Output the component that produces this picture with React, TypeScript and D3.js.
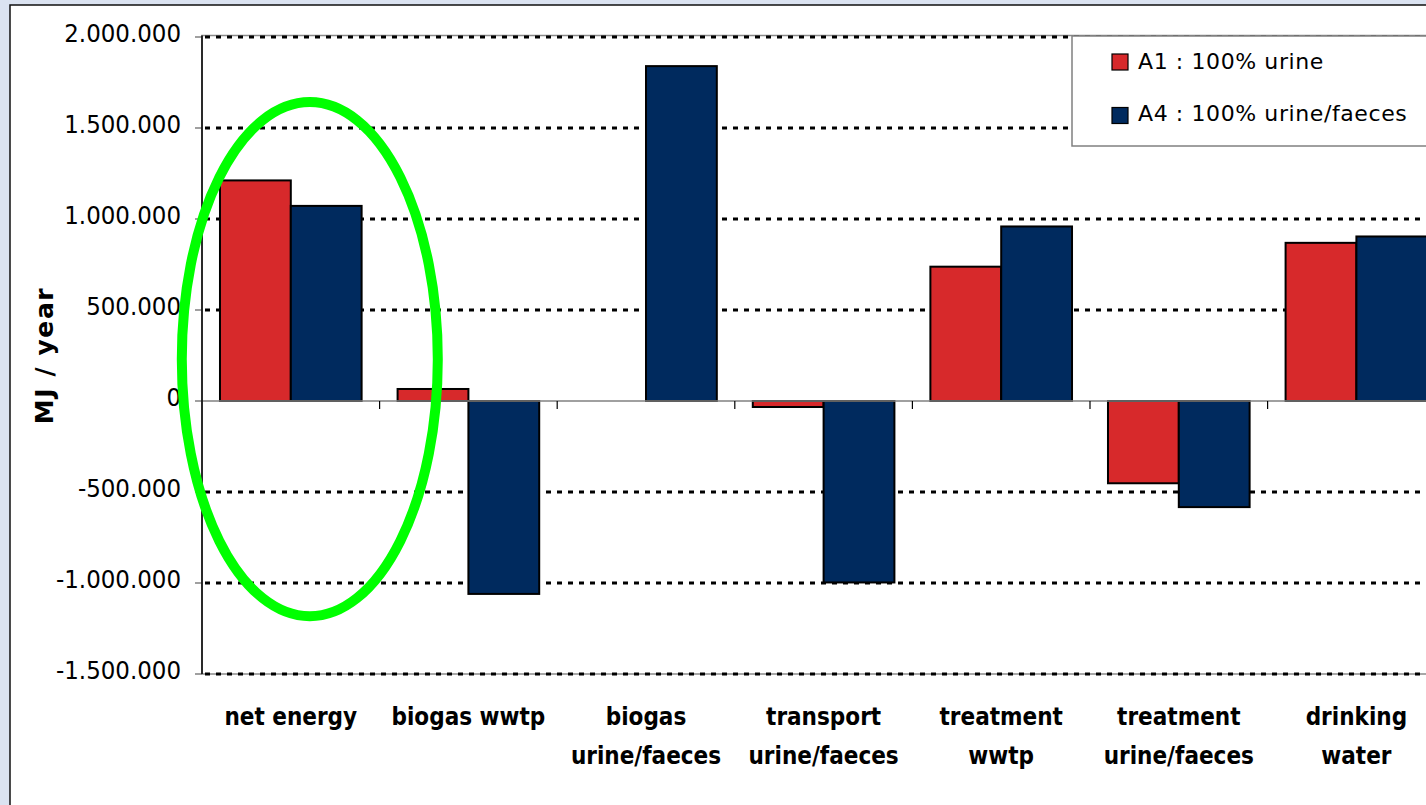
import React from "react";
import * as d3 from "d3";

const categories = [
  "net energy",
  "biogas wwtp",
  "biogas\nurine/faeces",
  "transport\nurine/faeces",
  "treatment\nwwtp",
  "treatment\nurine/faeces",
  "drinking\nwater",
];
const seriesNames = ["A1 : 100% urine", "A4 : 100% urine/faeces"];
const seriesA1 = [1212000, 66000, 0, -33000, 738000, -452000, 869000];
const seriesA4 = [1072000, -1060000, 1840000, -997000, 959000, -583000, 904000];
const yTicks = [2000000, 1500000, 1000000, 500000, 0, -500000, -1000000, -1500000];
const yTitle = "MJ / year";

const W = 1426;
const H = 805;
const COLORS = ["#d7292b", "#002a5e"];

function fmt(v: number): string {
  if (v === 0) return "0";
  const s = Math.abs(v).toString().replace(/\B(?=(\d{3})+(?!\d))/g, ".");
  return (v < 0 ? "-" : "") + s;
}

export default function App() {
  const left = 202;
  const top = 37;
  const bottom = 674;
  const step = 177.6;
  const x = d3
    .scaleBand<string>()
    .domain(categories)
    .range([left, left + step * categories.length])
    .padding(0);
  const xs = d3
    .scaleBand<string>()
    .domain(["A1", "A4"])
    .range([0, x.bandwidth()])
    .paddingInner(0)
    .paddingOuter(0.254);
  const y = d3.scaleLinear().domain([-1500000, 2000000]).range([bottom, top]);
  const y0 = y(0);
  const series = [seriesA1, seriesA4];
  const keys = ["A1", "A4"];
  const plotRight = W + 40;

  // annotation ellipse around "net energy"
  const ecx = (x("net energy") as number) + x.bandwidth() / 2 + 19;
  const ecy = y(230000);
  const ery = (y(-1185000) - y(1640000)) / 2;
  const erx = 128;

  return (
    <svg
      width={W}
      height={H}
      style={{ position: "absolute", left: 0, top: 0, display: "block" }}
    >
      <rect x={0} y={0} width={W} height={H} fill="#dbe3f1" />
      <rect x={10} y={5} width={W + 20} height={H + 20} fill="#ffffff" stroke="#111" strokeWidth={1.5} />

      {/* plot area border */}
      <rect x={left} y={top - 1.5} width={plotRight - left} height={bottom - top + 1.5} fill="none" stroke="#8a8a8a" strokeWidth={1.5} />

      {/* gridlines */}
      {yTicks.map((t) =>
        t === 0 ? null : (
          <line
            key={"g" + t}
            x1={left + 3}
            x2={plotRight}
            y1={y(t)}
            y2={y(t)}
            stroke="#000"
            strokeWidth={3}
            strokeDasharray="5 6"
          />
        )
      )}

      {/* y ticks and labels */}
      {yTicks.map((t) => (
        <g key={"t" + t}>
          <line x1={195} x2={left} y1={y(t)} y2={y(t)} stroke="#808080" strokeWidth={1.5} />
          <text
            x={181}
            y={y(t) + 5}
            textAnchor="end"
            fontFamily="'DejaVu Sans Condensed', 'DejaVu Sans', sans-serif"
            fontStretch="condensed"
            fontSize={25.5}
            fill="#000"
          >
            {fmt(t)}
          </text>
        </g>
      ))}

      {/* bars */}
      {categories.map((c, i) => (
        <g key={"c" + i}>
          {series.map((s, j) => {
            const v = s[i];
            if (v === 0) return null;
            const bx = (x(c) as number) + (xs(keys[j]) as number);
            const y1 = Math.min(y(v), y0);
            const h = Math.abs(y(v) - y0);
            return (
              <rect
                key={j}
                x={bx}
                y={y1}
                width={xs.bandwidth()}
                height={h}
                fill={COLORS[j]}
                stroke="#000"
                strokeWidth={2}
              />
            );
          })}
        </g>
      ))}

      {/* x axis at zero */}
      <line x1={left} x2={plotRight} y1={y0} y2={y0} stroke="#808080" strokeWidth={1.5} />
      {categories.map((c, i) => (
        <line
          key={"xt" + i}
          x1={(x(c) as number) + x.bandwidth()}
          x2={(x(c) as number) + x.bandwidth()}
          y1={y0}
          y2={y0 + 8}
          stroke="#000"
          strokeWidth={1.2}
        />
      ))}

      {/* y axis */}
      <line x1={left} x2={left} y1={top - 1.5} y2={bottom} stroke="#000" strokeWidth={1.5} />

      {/* category labels */}
      {categories.map((c, i) => (
        <text
          key={"cl" + i}
          x={(x(c) as number) + x.bandwidth() / 2}
          y={725}
          textAnchor="middle"
          fontFamily="'DejaVu Sans Condensed', 'DejaVu Sans', sans-serif"
          fontStretch="condensed"
          fontWeight="bold"
          fontSize={24}
          fill="#000"
        >
          {c.split("\n").map((line, k) => (
            <tspan key={k} x={(x(c) as number) + x.bandwidth() / 2} dy={k === 0 ? 0 : 39}>
              {line}
            </tspan>
          ))}
        </text>
      ))}

      {/* y title */}
      <text
        transform={`translate(53, ${(top + bottom) / 2}) rotate(-90)`}
        textAnchor="middle"
        fontFamily="'DejaVu Sans', sans-serif"
        fontWeight="bold"
        fontSize={25}
        letterSpacing={1.6}
        fill="#000"
      >
        {yTitle}
      </text>

      {/* legend */}
      <rect x={1072} y={36} width={400} height={110} fill="#fff" stroke="#808080" strokeWidth={1.5} />
      {seriesNames.map((n, j) => (
        <g key={"l" + j}>
          <rect
            x={1112}
            y={54 + j * 53.5}
            width={16}
            height={16}
            fill={COLORS[j]}
            stroke="#000"
            strokeWidth={1.2}
          />
          <text
            x={1138}
            y={68.5 + j * 52}
            fontFamily="'DejaVu Sans', sans-serif"
            fontSize={22}
            letterSpacing={0.6}
            fill="#000"
          >
            {n}
          </text>
        </g>
      ))}

      {/* annotation */}
      <ellipse cx={ecx} cy={ecy} rx={erx} ry={ery} fill="none" stroke="#00ff00" strokeWidth={10} />
    </svg>
  );
}
